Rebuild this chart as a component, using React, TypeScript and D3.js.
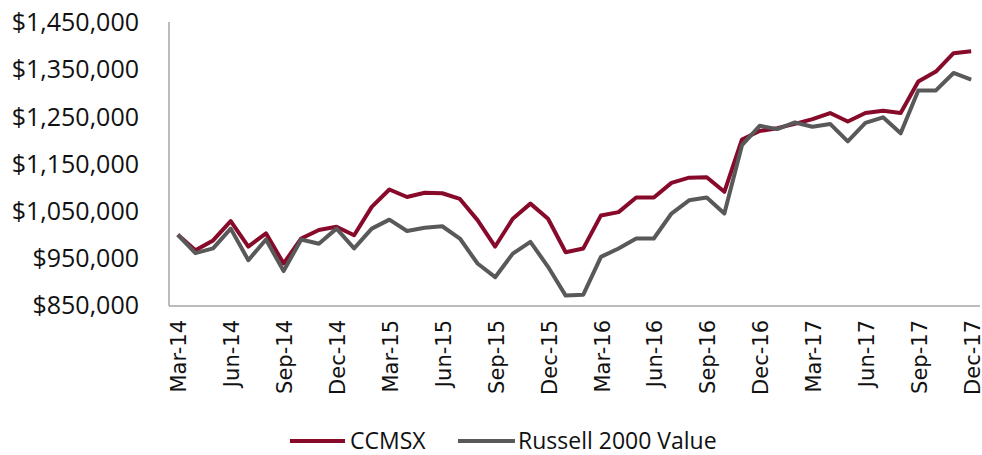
import { useEffect, useRef } from "react";
import * as d3 from "d3";

const months = [
  "Mar-14", "Apr-14", "May-14", "Jun-14", "Jul-14", "Aug-14", "Sep-14", "Oct-14", "Nov-14", "Dec-14",
  "Jan-15", "Feb-15", "Mar-15", "Apr-15", "May-15", "Jun-15", "Jul-15", "Aug-15", "Sep-15", "Oct-15",
  "Nov-15", "Dec-15", "Jan-16", "Feb-16", "Mar-16", "Apr-16", "May-16", "Jun-16", "Jul-16", "Aug-16",
  "Sep-16", "Oct-16", "Nov-16", "Dec-16", "Jan-17", "Feb-17", "Mar-17", "Apr-17", "May-17", "Jun-17",
  "Jul-17", "Aug-17", "Sep-17", "Oct-17", "Nov-17", "Dec-17",
];

const ccmsx = [
  1000000, 967000, 988000, 1029000, 975000, 1003000, 939000, 992000, 1010000, 1017000,
  999000, 1059000, 1096000, 1080000, 1089000, 1088000, 1076000, 1031000, 975000, 1034000,
  1066000, 1034000, 963000, 971000, 1041000, 1048000, 1079000, 1079000, 1110000, 1121000,
  1122000, 1091000, 1202000, 1220000, 1226000, 1235000, 1245000, 1258000, 1240000, 1258000,
  1263000, 1258000, 1325000, 1346000, 1385000, 1389000,
];

const russell = [
  1000000, 961000, 971000, 1013000, 946000, 990000, 923000, 990000, 981000, 1013000,
  971000, 1013000, 1032000, 1008000, 1015000, 1018000, 992000, 939000, 910000, 960000,
  985000, 932000, 871000, 873000, 953000, 971000, 992000, 992000, 1045000, 1073000,
  1079000, 1045000, 1190000, 1231000, 1224000, 1238000, 1229000, 1235000, 1198000, 1237000,
  1249000, 1215000, 1306000, 1306000, 1343000, 1329000,
];

const yTicks = [850000, 950000, 1050000, 1150000, 1250000, 1350000, 1450000];

const seriesNames = ["CCMSX", "Russell 2000 Value"];
const seriesColors = ["#870a2b", "#595959"];

export default function App() {
  const ref = useRef<SVGSVGElement>(null);

  useEffect(() => {
    const svg = d3.select(ref.current);
    svg.selectAll("*").remove();

    const width = 982;
    const height = 455;
    const left = 169;
    const right = 980;
    const top = 22;
    const bottom = 306;

    const x = d3.scalePoint<string>().domain(months).range([left, right]).padding(0.5);
    const y = d3.scaleLinear().domain([850000, 1450000]).range([bottom - 0.5, top + 0.5]);

    svg.append("rect").attr("width", width).attr("height", height).attr("fill", "#fff");

    // y labels
    const fmt = d3.format(",");
    svg
      .append("g")
      .selectAll("text")
      .data(yTicks)
      .join("text")
      .attr("x", 139)
      .attr("y", (d) => y(d))
      .attr("dy", "0.35em")
      .attr("text-anchor", "end")
      .attr("font-family", "'Open Sans', sans-serif")
      .attr("font-size", 25)
      .attr("fill", "#111")
      .text((d) => "$" + fmt(d));

    // axis lines
    svg
      .append("line")
      .attr("x1", left)
      .attr("x2", left)
      .attr("y1", top)
      .attr("y2", bottom)
      .attr("stroke", "#a6a6a6")
      .attr("stroke-width", 1.5);
    svg
      .append("line")
      .attr("x1", left)
      .attr("x2", right)
      .attr("y1", bottom)
      .attr("y2", bottom)
      .attr("stroke", "#a6a6a6")
      .attr("stroke-width", 1.5);

    // x labels, every quarter
    const qLabels = months.filter((_, i) => i % 3 === 0);
    svg
      .append("g")
      .selectAll("text")
      .data(qLabels)
      .join("text")
      .attr("transform", (d) => `translate(${x(d)! + 1},320) rotate(-90)`)
      .attr("dy", "0.36em")
      .attr("text-anchor", "end")
      .attr("font-family", "'DejaVu Sans', sans-serif")
      .attr("font-size", 21)
      .attr("fill", "#111")
      .text((d) => d);

    const line = d3
      .line<number>()
      .x((_, i) => x(months[i])!)
      .y((d) => y(d));

    [ccmsx, russell].forEach((vals, k) => {
      svg
        .append("path")
        .datum(vals)
        .attr("fill", "none")
        .attr("stroke", seriesColors[k])
        .attr("stroke-width", 4)
        .attr("stroke-linejoin", "round")
        .attr("d", line);
    });

    // legend
    const legendItems = [
      { x1: 290, x2: 345, tx: 350 },
      { x1: 458, x2: 515, tx: 518 },
    ];
    legendItems.forEach((it, k) => {
      svg
        .append("line")
        .attr("x1", it.x1)
        .attr("x2", it.x2)
        .attr("y1", 441)
        .attr("y2", 441)
        .attr("stroke", seriesColors[k])
        .attr("stroke-width", 4);
      svg
        .append("text")
        .attr("x", it.tx)
        .attr("y", 441)
        .attr("dy", "0.35em")
        .attr("font-family", "'Open Sans', sans-serif")
        .attr("font-size", 23)
        .attr("fill", "#111")
        .text(seriesNames[k]);
    });
  }, []);

  return (
    <svg
      ref={ref}
      width={982}
      height={455}
      style={{ position: "absolute", left: 0, top: 0, display: "block" }}
    />
  );
}
